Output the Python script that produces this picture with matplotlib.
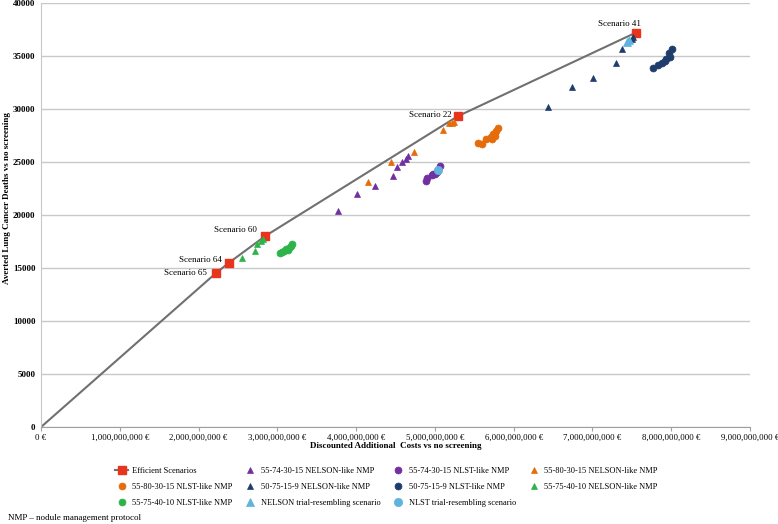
import numpy as np
import matplotlib
matplotlib.use("Agg")
import matplotlib.pyplot as plt
from matplotlib.ticker import FuncFormatter, MultipleLocator

plt.rcParams['font.family'] = ['Liberation Serif', 'DejaVu Serif']

# costs in billions of euro, deaths averted
eff_cost = [0, 2.217, 2.386, 2.847, 5.288, 7.55]
eff_deaths = [0, 14500, 15500, 18020, 29310, 37200]
eff_names = ["", "Scenario 65", "Scenario 64", "Scenario 60", "Scenario 22", "Scenario 41"]

p_tri_cost = [3.773, 4.014, 4.239, 4.471, 4.518, 4.577, 4.628, 4.661]
p_tri_deaths = [20400, 21980, 22740, 23680, 24500, 25030, 25280, 25570]

p_circ_cost = [4.886, 4.894, 4.958, 5.000, 5.022, 5.063, 4.98]
p_circ_deaths = [23235, 23520, 23770, 23840, 24080, 24620, 23900]

o_tri_cost = [4.154, 4.438, 4.737, 5.098, 5.181, 5.212, 5.245]
o_tri_deaths = [23085, 24970, 25915, 28020, 28650, 28650, 28770]

o_circ_cost = [5.549, 5.593, 5.643, 5.707, 5.72, 5.740, 5.76, 5.774, 5.803]
o_circ_deaths = [26820, 26670, 27170, 27330, 27200, 27640, 27450, 27950, 28180]

n_tri_cost = [6.438, 6.742, 7.009, 7.293, 7.369, 7.496, 7.509]
n_tri_deaths = [30220, 32050, 32900, 34370, 35630, 36570, 36820]

n_circ_cost = [7.770, 7.834, 7.877, 7.919, 7.940, 7.982, 7.973, 8.004]
n_circ_deaths = [33840, 34150, 34370, 34560, 34690, 34940, 35250, 35690]

g_tri_cost = [2.547, 2.716, 2.745, 2.788, 2.813]
g_tri_deaths = [15970, 16600, 17240, 17580, 17740]

g_circ_cost = [3.03, 3.06, 3.09, 3.11, 3.13, 3.15, 3.17, 3.18]
g_circ_deaths = [16400, 16500, 16600, 16750, 16700, 16900, 17100, 17300]

nelson_cost = [7.44, 7.47]
nelson_deaths = [36300, 36500]

nlst_cost = [5.034]
nlst_deaths = [24245]

fig = plt.figure(figsize=(7.78, 5.24), dpi=100)
ax = fig.add_axes([0.0527, 0.185, 0.9113, 0.8093])

RED = '#e8341c'
PURPLE = '#7030a0'
ORANGE = '#e46c0a'
NAVY = '#1f3d6c'
GREEN = '#2db34a'
LBLUE = '#5fb3dc'

h_eff, = ax.plot(np.array(eff_cost) * 1e9, eff_deaths, color='#707070', lw=1.5,
                 marker='s', markersize=5.5, markerfacecolor=RED, markeredgecolor=RED,
                 markevery=[1, 2, 3, 4, 5], zorder=2, label='Efficient Scenarios')

def pts(c, d, col, m, ms, lab):
    h, = ax.plot(np.array(c) * 1e9, d, ls='none', marker=m, markersize=ms,
                 color=col, markeredgecolor=col, markeredgewidth=0.5, zorder=3, label=lab)
    return h

h1 = pts(p_tri_cost, p_tri_deaths, PURPLE, '^', 5, '55-74-30-15 NELSON-like NMP')
h2 = pts(p_circ_cost, p_circ_deaths, PURPLE, 'o', 5, '55-74-30-15 NLST-like NMP')
h3 = pts(o_tri_cost, o_tri_deaths, ORANGE, '^', 5, '55-80-30-15 NELSON-like NMP')
h4 = pts(o_circ_cost, o_circ_deaths, ORANGE, 'o', 5, '55-80-30-15 NLST-like NMP')
h5 = pts(n_tri_cost, n_tri_deaths, NAVY, '^', 5, '50-75-15-9 NELSON-like NMP')
h6 = pts(n_circ_cost, n_circ_deaths, NAVY, 'o', 5, '50-75-15-9 NLST-like NMP')
h7 = pts(g_tri_cost, g_tri_deaths, GREEN, '^', 5, '55-75-40-10 NELSON-like NMP')
h8 = pts(g_circ_cost, g_circ_deaths, GREEN, 'o', 5, '55-75-40-10 NLST-like NMP')
h9 = pts(nelson_cost, nelson_deaths, LBLUE, '^', 6, 'NELSON trial-resembling scenario')
h10 = pts(nlst_cost, nlst_deaths, LBLUE, 'o', 6, 'NLST trial-resembling scenario')

# scenario labels (offsets in points)
offsets = {1: (-6, 0, 'right'), 2: (-5, 2, 'right'), 3: (-6, 4, 'right'),
           4: (-4, 1, 'right'), 5: (-12, 6, 'center')}
for i in range(1, 6):
    dx, dy, ha = offsets[i]
    ax.annotate(eff_names[i], (eff_cost[i] * 1e9, eff_deaths[i]), xytext=(dx, dy),
                textcoords='offset points', ha=ha, va='center', fontsize=6.5)

ax.set_xlim(0, 9e9)
ax.set_ylim(0, 40000)
ax.xaxis.set_major_locator(MultipleLocator(1e9))
ax.yaxis.set_major_locator(MultipleLocator(5000))

def fmt_eur(v, pos):
    if v == 0:
        return '0 €'
    return '{:,.0f} €'.format(v)

ax.xaxis.set_major_formatter(FuncFormatter(fmt_eur))
ax.yaxis.set_major_formatter(FuncFormatter(lambda v, p: '%d' % v))
ax.tick_params(axis='x', labelsize=6.3, length=3, color='#a0a0a0', pad=2)
ax.tick_params(axis='y', labelsize=6.5, length=0, pad=4)
for lab in ax.get_yticklabels():
    lab.set_fontweight('bold')

ax.grid(axis='y', color='#c8c8c8', lw=1.0)
ax.set_axisbelow(True)
for s in ['top', 'right']:
    ax.spines[s].set_visible(False)
ax.spines['left'].set_color('#c8c8c8')
ax.spines['bottom'].set_color('#a0a0a0')

ax.set_xlabel('Discounted Additional  Costs vs no screening', fontsize=6.5,
              fontweight='bold', labelpad=0)
ax.set_ylabel('Averted Lung Cancer Deaths vs no screening', fontsize=6.5,
              fontweight='bold')
ax.yaxis.set_label_coords(-0.042, 0.54)

# legend shown row-wise in 4 columns
handles = [h_eff, h4, h8, h1, h5, h9, h2, h6, h10, h3, h7]
fig.legend(handles=handles, labels=[h.get_label() for h in handles], ncol=4,
           loc='center', bbox_to_anchor=(0.497, 0.07), frameon=False, fontsize=6.0,
           handlelength=1.5, columnspacing=1.4, labelspacing=0.95, handletextpad=0.5)

fig.text(0.01, 0.008, 'NMP – nodule management protocol', fontsize=6.5)

fig.savefig('out.png', dpi=100)
